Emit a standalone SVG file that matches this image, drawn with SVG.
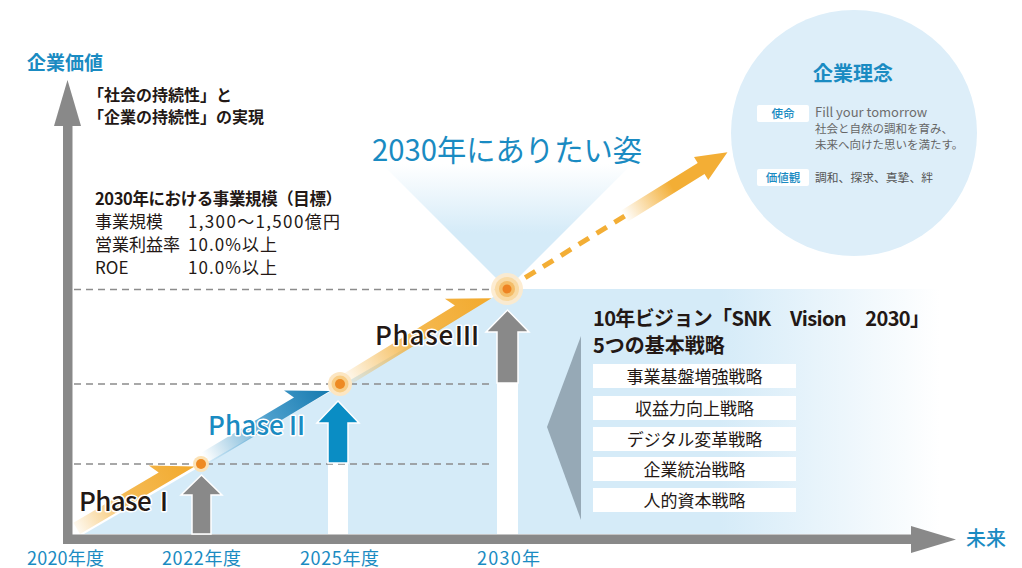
<svg xmlns="http://www.w3.org/2000/svg" width="1022" height="568" viewBox="0 0 1022 568">
<style>
  text { font-family: "Noto Sans CJK JP", "Noto Sans", sans-serif; }
  .blue { fill: #1a8bc2; }
  .dark { fill: #231815; }
  .dash { stroke: #8c8c8c; stroke-width: 1.6; stroke-dasharray: 7 5; fill: none; }
  .axis { fill: #898989; }
  .box { fill: #ffffff; }
  .boxtxt { font-size: 17px; fill: #231815; text-anchor: middle; }
  .year { font-size: 18px; fill: #1a8bc2; }
  .phase { font-size: 26px; font-weight: 500; stroke: #ffffff; stroke-width: 3; paint-order: stroke; stroke-linejoin: round; }
  .uparrow { stroke: #ffffff; stroke-width: 1.5; stroke-linejoin: miter; }
  .tag { fill: #ffffff; }
  .tagtxt { font-size: 11.5px; fill: #1a8bc2; text-anchor: middle; font-weight: 500; }
  .row { font-size: 17px; fill: #231815; }
</style>
<defs>
  <linearGradient id="regionGrad" gradientUnits="userSpaceOnUse" x1="720" y1="0" x2="940" y2="0">
    <stop offset="0" stop-color="#d5ebf8"/>
    <stop offset="1" stop-color="#ffffff"/>
  </linearGradient>
  <linearGradient id="spotGrad" x1="0" y1="0" x2="0" y2="1">
    <stop offset="0" stop-color="#ffffff"/>
    <stop offset="0.55" stop-color="#d5ebf8"/>
    <stop offset="1" stop-color="#d5ebf8"/>
  </linearGradient>
  <linearGradient id="orangeGrad" x1="0" y1="0" x2="1" y2="0">
    <stop offset="0" stop-color="#f3ae35" stop-opacity="0.08"/>
    <stop offset="0.45" stop-color="#f3ae35" stop-opacity="0.85"/>
    <stop offset="1" stop-color="#f2a92c"/>
  </linearGradient>
  <linearGradient id="blueGrad" x1="0" y1="0" x2="1" y2="0">
    <stop offset="0" stop-color="#2a8cc2" stop-opacity="0"/>
    <stop offset="0.55" stop-color="#2a8cc2" stop-opacity="0.85"/>
    <stop offset="1" stop-color="#1579ae"/>
  </linearGradient>
  <linearGradient id="finalGrad" gradientUnits="userSpaceOnUse" x1="128" y1="0" x2="185" y2="0">
    <stop offset="0" stop-color="#f3ae35" stop-opacity="0"/>
    <stop offset="1" stop-color="#f3ae35"/>
  </linearGradient>
</defs>

<g id="spotlight">
  <polygon points="382,164 632,164 507,289" fill="url(#spotGrad)"/>
</g>
<g id="philosophy">
  <circle cx="854" cy="133" r="123" fill="#ddeef9"/>
  <text x="853" y="81" class="blue" font-size="20" font-weight="700" text-anchor="middle">企業理念</text>
  <rect x="757" y="105" width="52" height="17" rx="2" class="tag"/>
  <text x="783" y="118" class="tagtxt">使命</text>
  <text x="815" y="117" font-size="13" fill="#6d6d6d">Fill your tomorrow</text>
  <text x="815" y="133" font-size="11.5" fill="#666666">社会と自然の調和を育み、</text>
  <text x="815" y="149" font-size="11.5" fill="#666666">未来へ向けた思いを満たす。</text>
  <rect x="757" y="169" width="52" height="17" rx="2" class="tag"/>
  <text x="783" y="182" class="tagtxt">価値観</text>
  <text x="815" y="182" font-size="11.8" fill="#555555">調和、探求、真摯、絆</text>
</g>

<g id="region">
  <polygon points="84,534 201,466 340,386 507,289 945,289 945,534" fill="url(#regionGrad)"/>
  <rect x="328" y="463" width="20" height="71" fill="#ffffff"/>
  <rect x="497" y="383" width="21" height="151" fill="#ffffff"/>
</g>

<g id="strategies">
  <polygon points="581,336 547,427 581,520" fill="#96a9b6"/>
  <text x="593" y="326" class="dark" font-size="20" font-weight="700" textLength="337" lengthAdjust="spacing">10年ビジョン「SNK　Vision　2030」</text>
  <text x="593" y="353" class="dark" font-size="20" font-weight="700">5つの基本戦略</text>
  <g id="s1"><rect x="593" y="364" width="203" height="24" class="box"/><text x="694.5" y="382.5" class="boxtxt">事業基盤増強戦略</text></g>
  <g id="s2"><rect x="593" y="396" width="203" height="24" class="box"/><text x="694.5" y="414.5" class="boxtxt">収益力向上戦略</text></g>
  <g id="s3"><rect x="593" y="427" width="203" height="24" class="box"/><text x="694.5" y="445.5" class="boxtxt">デジタル変革戦略</text></g>
  <g id="s4"><rect x="593" y="457" width="203" height="24" class="box"/><text x="694.5" y="475.5" class="boxtxt">企業統治戦略</text></g>
  <g id="s5"><rect x="593" y="488" width="203" height="24" class="box"/><text x="694.5" y="506.5" class="boxtxt">人的資本戦略</text></g>
</g>

<g id="connectors">
  <line x1="74" y1="289.5" x2="495" y2="289.5" class="dash"/>
  <line x1="74" y1="384" x2="492" y2="384" class="dash"/>
  <line x1="74" y1="464" x2="492" y2="464" class="dash"/>

  <rect x="63" y="120" width="9.5" height="424" class="axis"/>
  <polygon points="67.5,80 54,126 81,126" class="axis"/>
  <rect x="63" y="534.5" width="850" height="9.5" class="axis"/>
  <polygon points="911,526 956,539.5 911,553" class="axis"/>

  <g transform="translate(80,534) rotate(-30.5)">
    <polygon points="0,0 0,-13 99,-13 94,-24 133,0" fill="url(#orangeGrad)"/>
  </g>
  <g transform="translate(208,464) rotate(-30.9)">
    <polygon points="0,0 0,-13 108,-13 103,-24 142,0" fill="url(#blueGrad)"/>
  </g>
  <g transform="translate(350,385) rotate(-31.5)">
    <polygon points="0,0 0,-13 131,-13 126,-24 166,0" fill="url(#orangeGrad)"/>
  </g>
  <g transform="translate(515,284) rotate(-31.8)">
    <line x1="12" y1="0" x2="136" y2="0" stroke="#f3ae35" stroke-width="5" stroke-dasharray="12 9"/>
    <polygon points="128,-6.5 219,-6.5 219,-13.5 250,0 219,13.5 219,6.5 128,6.5" fill="url(#finalGrad)"/>
  </g>
</g>

<g id="up2022">
  <polygon class="uparrow" points="201.5,475 222,495 211,495 211,534 192,534 192,495 181,495" fill="#898989"/>
</g>
<g id="up2025">
  <polygon class="uparrow" points="338,401 359,423 348,423 348,463 328,463 328,423 317,423" fill="#0a8dc4"/>
</g>
<g id="up2030">
  <polygon class="uparrow" points="507.5,310 529,332 518,332 518,383 497,383 497,332 486,332" fill="#898989"/>
</g>

<g id="node2022">
  <circle cx="201" cy="464" r="8" fill="#fbe2b6"/>
  <circle cx="201" cy="464" r="5" fill="#ee8a22"/>
</g>
<g id="node2025">
  <circle cx="340" cy="384" r="12" fill="#fce6c2"/>
  <circle cx="340" cy="384" r="8.5" fill="#f8cd85"/>
  <circle cx="340" cy="384" r="5" fill="#ee8a22"/>
</g>
<g id="node2030">
  <circle cx="507" cy="289" r="16" fill="#fdeacc" opacity="0.9"/>
  <circle cx="507" cy="289" r="12" fill="#f8d89f" opacity="0.9"/>
  <circle cx="507" cy="289" r="8" fill="#f4bd68"/>
  <circle cx="507" cy="289" r="4.5" fill="#ee8322"/>
</g>

<g id="labels">
  <text x="27" y="70" class="blue" font-size="19" font-weight="700">企業価値</text>
  <text x="88" y="101" class="dark" font-size="16" font-weight="700">「社会の持続性」と</text>
  <text x="88" y="123" class="dark" font-size="16" font-weight="700">「企業の持続性」の実現</text>
  <text x="95" y="205" class="dark" font-size="16.5" font-weight="700" textLength="247" lengthAdjust="spacing">2030年における事業規模（目標）</text>
  <text x="95" y="228" class="row">事業規模</text>
  <text x="188" y="228" class="row" textLength="152" lengthAdjust="spacing">1,300～1,500億円</text>
  <text x="95" y="251" class="row">営業利益率</text>
  <text x="188" y="251" class="row" textLength="89" lengthAdjust="spacing">10.0%以上</text>
  <text x="95" y="274" class="row">ROE</text>
  <text x="188" y="274" class="row" textLength="89" lengthAdjust="spacing">10.0%以上</text>

  <text x="372" y="161" class="blue" font-size="30" textLength="270" lengthAdjust="spacingAndGlyphs">2030年にありたい姿</text>

  <text x="79" y="511" class="phase" fill="#231815" textLength="98" lengthAdjust="spacing">PhaseⅠ</text>
  <text x="208" y="435" class="phase" fill="#1a8bc2" textLength="102" lengthAdjust="spacing">PhaseⅡ</text>
  <text x="375" y="345" class="phase" fill="#231815" textLength="105" lengthAdjust="spacing">PhaseⅢ</text>

  <text x="27" y="565" class="year" textLength="77" lengthAdjust="spacing">2020年度</text>
  <text x="162" y="565" class="year" textLength="79" lengthAdjust="spacing">2022年度</text>
  <text x="300" y="565" class="year" textLength="79" lengthAdjust="spacing">2025年度</text>
  <text x="477" y="565" class="year" textLength="63" lengthAdjust="spacing">2030年</text>
  <text x="966" y="546" class="blue" font-size="20" font-weight="500">未来</text>
</g>
</svg>
